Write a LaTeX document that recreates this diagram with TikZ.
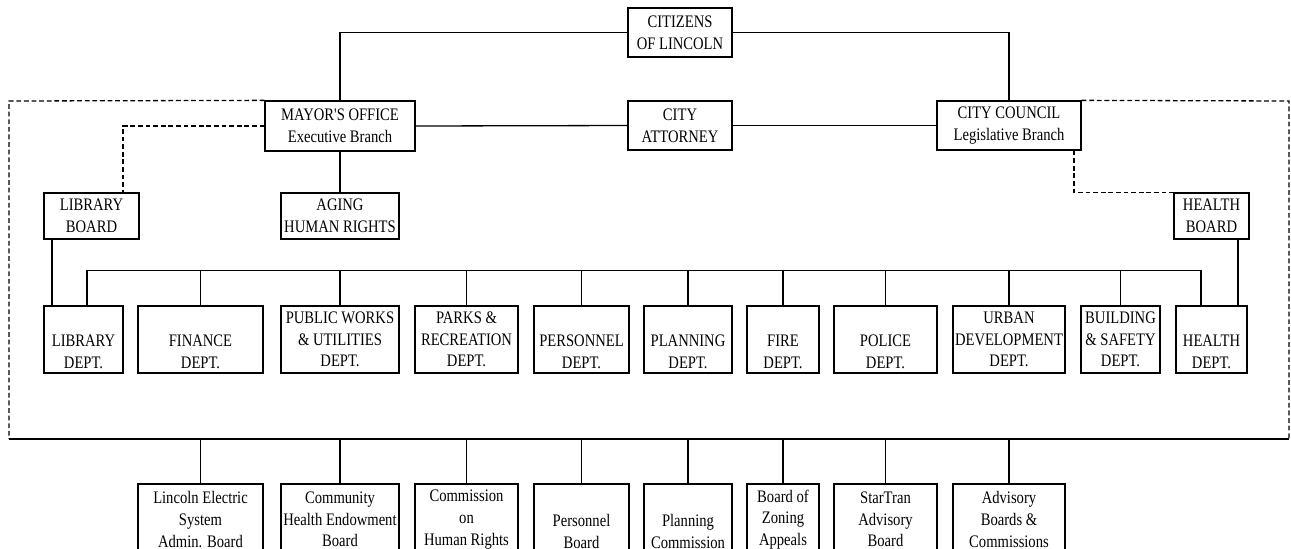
\documentclass[tikz,border=0pt]{standalone}
\usepackage{fontspec}
\setmainfont[FakeStretch=0.83, Ligatures=TeXOff]{Liberation Serif}
\usepackage{tikz}
\usetikzlibrary{positioning}

\begin{document}
\begin{tikzpicture}[
  x=0.5pt, y=-0.5pt,
  every node/.style={font=\fontsize{8.8}{10.8}\selectfont},
  box/.style={
    draw, line width=0.65pt, align=center,
    inner sep=0pt, minimum height=24.5pt
  },
  dept/.style={box, minimum height=33.5pt},
  board/.style={box, minimum height=35.5pt},
  link/.style={line width=0.65pt},
  dlink/.style={line width=0.65pt, dash pattern=on 2.4pt off 1.4pt}
]
  \useasboundingbox (0,0) rectangle (1291,548);

  % top of the chart
  \node[box, minimum width=52pt] (citizens) at (680,32.5) {CITIZENS\\OF LINCOLN};
  \node[box, minimum width=75pt, minimum height=25pt] (mayor) at (340,126) {MAYOR'S OFFICE\\Executive Branch};
  \node[box, minimum width=52pt] (attorney) at (680,125.5) {CITY\\ATTORNEY};
  \node[box, minimum width=72pt] (council) at (1009,125.5) {CITY COUNCIL\\Legislative Branch};

  % boards below the branches
  \node[box, minimum width=47.5pt, minimum height=23pt] (libboard) at (91.5,216) {LIBRARY\\BOARD};
  \node[box, minimum width=59pt, minimum height=23pt] (aging) at (340,216) {AGING\\HUMAN RIGHTS};
  \node[box, minimum width=37.5pt, minimum height=23pt] (hboard) at (1211.5,216) {HEALTH\\BOARD};

  % departments
  \node[dept, minimum width=39.5pt] (libdept) at (83.5,339.5) {\strut\\LIBRARY\\DEPT.};
  \node[dept, minimum width=62.5pt] (finance) at (200.5,339.5) {\strut\\FINANCE\\DEPT.};
  \node[dept, minimum width=59pt] (pubworks) at (340,339.5) {PUBLIC WORKS\\\& UTILITIES\\DEPT.};
  \node[dept, minimum width=51.5pt] (parks) at (466.5,339.5) {PARKS \&\\RECREATION\\DEPT.};
  \node[dept, minimum width=47.5pt] (personnel) at (581.5,339.5) {\strut\\PERSONNEL\\DEPT.};
  \node[dept, minimum width=44pt] (planning) at (688,339.5) {\strut\\PLANNING\\DEPT.};
  \node[dept, minimum width=36pt] (fire) at (783,339.5) {\strut\\FIRE\\DEPT.};
  \node[dept, minimum width=51.5pt] (police) at (885.5,339.5) {\strut\\POLICE\\DEPT.};
  \node[dept, minimum width=56pt] (urban) at (1009,339.5) {URBAN\\DEVELOPMENT\\DEPT.};
  \node[dept, minimum width=39.5pt] (building) at (1120.5,339.5) {BUILDING\\\& SAFETY\\DEPT.};
  \node[dept, minimum width=35.5pt] (healthdept) at (1211.5,339.5) {\strut\\HEALTH\\DEPT.};

  % boards and commissions
  \node[board, minimum width=62.5pt] (lincoln) at (200.5,519.5) {Lincoln Electric\\System\\Admin. Board};
  \node[board, minimum width=59pt] (community) at (340,519.5) {Community\\Health Endowment\\Board};
  \node[board, minimum width=51.5pt] (commission) at (466.5,519.5) {Commission\\on\\Human Rights};
  \node[board, minimum width=47.5pt] (persboard) at (581.5,519.5) {\strut\\Personnel\\Board};
  \node[board, minimum width=44pt] (plancomm) at (688,519.5) {\strut\\Planning\\Commission};
  \node[board, minimum width=36pt] (zoning) at (783,519.5) {Board of\\Zoning\\Appeals};
  \node[board, minimum width=51.5pt] (startran) at (885.5,519.5) {StarTran\\Advisory\\Board};
  \node[board, minimum width=56pt] (advisory) at (1009,519.5) {Advisory\\Boards \&\\Commissions};

  % frame corners
  \coordinate (fnw) at (9,101);
  \coordinate (fsw) at (9,439);
  \coordinate (fne) at (1289,101);
  \coordinate (fse) at (1289,439);

  % solid lines
  \draw[link] (citizens.west) -| (mayor.north);
  \draw[link] (citizens.east) -| (council.north);
  \draw[link] (mayor.east) -- (attorney.west);
  \draw[link] (attorney.east) -- (council.west);
  \draw[link] (mayor.south) -- (aging.north);
  \draw[link] ([xshift=-19.75pt]libboard.south) -- ([xshift=-19.75pt]libboard.south |- libdept.north);
  \draw[link] ([xshift=13.25pt]hboard.south) -- ([xshift=13.25pt]hboard.south |- healthdept.north);

  % department bus
  \draw[link] ([xshift=1.75pt]libdept.north) -- ++(0,-35) -| ([xshift=-5.25pt]healthdept.north);
  \foreach \d in {finance,pubworks,parks,personnel,planning,fire,police,urban,building}
    \draw[link] (\d.north) -- ++(0,-35);

  % bus to the boards
  \draw[link] (fsw) -- (fse);
  \foreach \b in {lincoln,community,commission,persboard,plancomm,zoning,startran,advisory}
    \draw[link] (\b.north) -- (\b.north |- fsw);

  % dashed lines
  \draw[dlink] (mayor.north west) -- (fnw) -- (fsw);
  \draw[dlink] (council.north east) -- (fne) -- (fse);
  \draw[dlink] (mayor.west) -| ([xshift=15.75pt]libboard.north);
  \draw[dlink] ([xshift=32.5pt]council.south) |- (hboard.north west);

\end{tikzpicture}
\end{document}
